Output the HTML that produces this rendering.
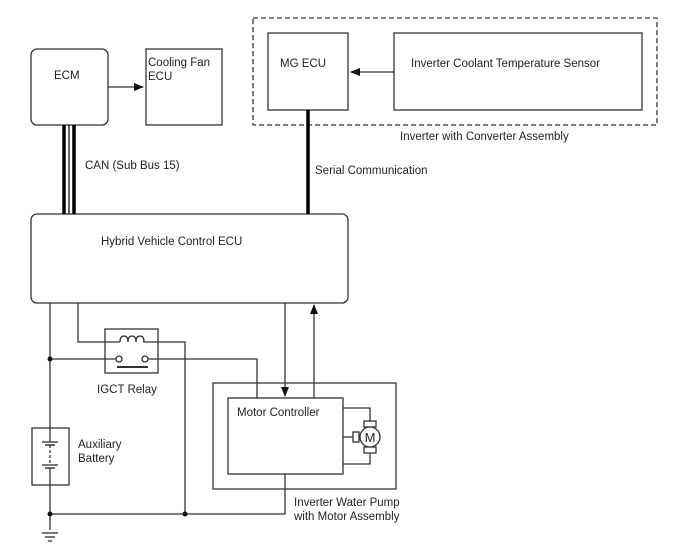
<!DOCTYPE html>
<html><head><style>
html,body{margin:0;padding:0;background:#fff;}
svg{display:block;}
text{font-family:"Liberation Sans",sans-serif;font-size:11.5px;fill:#222;}
</style></head><body>
<svg width="688" height="560" viewBox="0 0 688 560" xmlns="http://www.w3.org/2000/svg">
<defs>
<marker id="ah" markerWidth="10" markerHeight="8" refX="9" refY="4" orient="auto" markerUnits="userSpaceOnUse">
<path d="M0,0 L10,4 L0,8 Z" fill="#111"/></marker>
</defs>
<g fill="none" stroke="#333" stroke-width="1.3">
<rect x="31" y="49" width="77" height="76" rx="6"/>
<rect x="146" y="49" width="76" height="76"/>
<rect x="253" y="18" width="404" height="107" stroke-dasharray="5,3"/>
<rect x="268" y="33" width="80" height="77"/>
<rect x="394" y="33" width="248" height="77"/>
<line x1="108" y1="87" x2="143" y2="87" marker-end="url(#ah)"/>
<line x1="394" y1="72" x2="351" y2="72" marker-end="url(#ah)"/>
<rect x="31" y="214" width="317" height="89" rx="6"/>
<line x1="64" y1="125" x2="64" y2="214" stroke="#000" stroke-width="3.5"/>
<line x1="69" y1="125" x2="69" y2="214" stroke="#000" stroke-width="1.2"/>
<line x1="74" y1="125" x2="74" y2="214" stroke="#000" stroke-width="3.5"/>
<line x1="308" y1="110" x2="308" y2="214" stroke="#000" stroke-width="3.5"/>
<line x1="50" y1="303" x2="50" y2="428"/>
<line x1="50" y1="485" x2="50" y2="530"/>
<polyline points="78,303 78,342 120,342"/>
<polyline points="143,342 185,342 185,514"/>
<rect x="105" y="329" width="53" height="44"/>
<path d="M120,342 q0,-6 4,-6 q4,0 4,6 q0,-6 4,-6 q4,0 4,6 q0,-6 4,-6 q4,0 4,6"/>
<line x1="50" y1="359" x2="116" y2="359"/>
<circle cx="119" cy="359" r="3"/>
<circle cx="145" cy="359" r="3"/>
<line x1="117" y1="367" x2="148" y2="367" stroke-width="2"/>
<polyline points="148,359 257,359 257,398"/>
<rect x="213" y="383" width="183" height="106"/>
<rect x="228" y="398" width="115" height="76"/>
<line x1="285" y1="303" x2="285" y2="396" marker-end="url(#ah)"/>
<line x1="314" y1="398" x2="314" y2="305" marker-end="url(#ah)"/>
<polyline points="285,474 285,514 50,514"/>
<polyline points="343,408 370,408 370,421"/>
<polyline points="343,464 370,464 370,453"/>
<line x1="343" y1="437" x2="353" y2="437"/>
<rect x="364" y="421" width="12" height="6"/>
<rect x="364" y="447" width="12" height="6"/>
<rect x="353" y="432" width="6" height="10"/>
<circle cx="370" cy="437" r="10" fill="#fff"/>
<rect x="32" y="428" width="37" height="57"/>
<line x1="50" y1="428" x2="50" y2="442"/>
<line x1="42" y1="442" x2="58" y2="442"/>
<line x1="50" y1="445" x2="50" y2="465" stroke-dasharray="3,2"/>
<line x1="42" y1="465" x2="58" y2="465"/>
<line x1="50" y1="468" x2="50" y2="485"/>
<line x1="45" y1="468" x2="55" y2="468" stroke-width="1.5"/>
<line x1="45" y1="445" x2="55" y2="445" stroke-width="1.5"/>
<line x1="42" y1="533" x2="58" y2="533"/>
<line x1="45" y1="537" x2="55" y2="537"/>
<line x1="48" y1="541" x2="52" y2="541"/>
</g>
<g fill="#111">
<circle cx="50" cy="359" r="2.5"/>
<circle cx="50" cy="514" r="2.5"/>
<circle cx="185" cy="514" r="2.5"/>
</g>
<text x="54" y="79">ECM</text>
<text x="148" y="66">Cooling Fan</text>
<text x="148" y="80">ECU</text>
<text x="280" y="67">MG ECU</text>
<text x="411" y="67">Inverter Coolant Temperature Sensor</text>
<text x="400" y="140">Inverter with Converter Assembly</text>
<text x="85" y="169">CAN (Sub Bus 15)</text>
<text x="315" y="174">Serial Communication</text>
<text x="101" y="245">Hybrid Vehicle Control ECU</text>
<text x="97" y="393">IGCT Relay</text>
<text x="78" y="448">Auxiliary</text>
<text x="78" y="462">Battery</text>
<text x="237" y="416">Motor Controller</text>
<text x="370" y="442" text-anchor="middle" style="font-size:13px">M</text>
<text x="294" y="506">Inverter Water Pump</text>
<text x="294" y="520">with Motor Assembly</text>
</svg>
</body></html>
